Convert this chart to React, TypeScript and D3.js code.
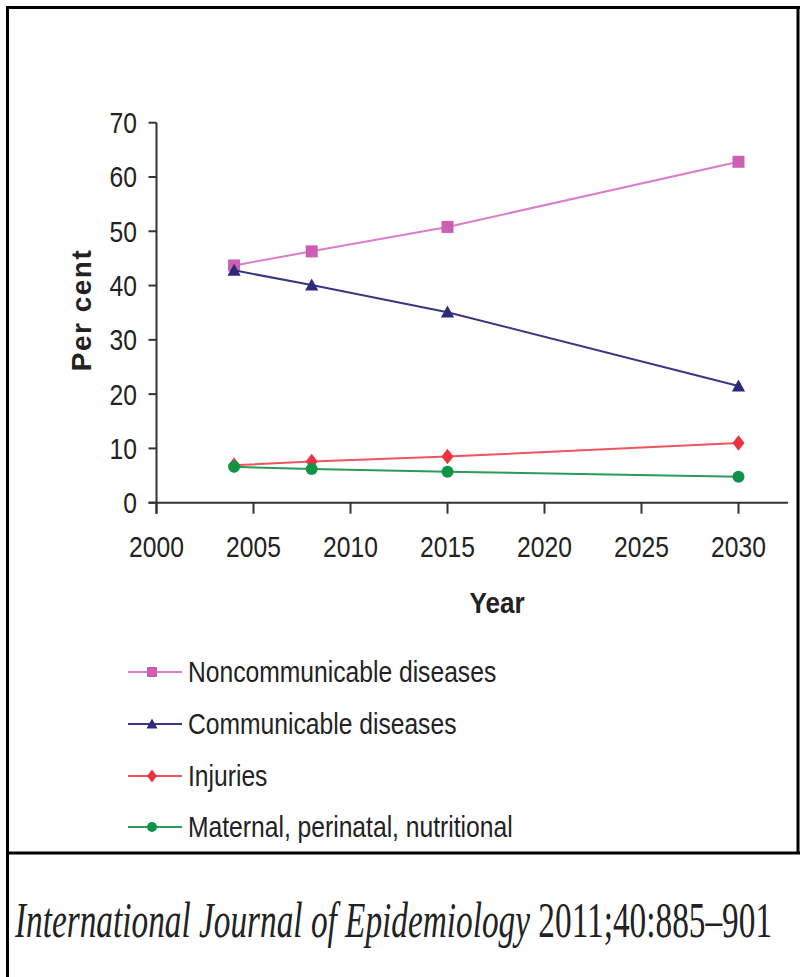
import React, { useLayoutEffect, useRef, useState } from "react";
import * as d3 from "d3";

const years = [2004, 2008, 2015, 2030];
const noncommunicable = [43.7, 46.3, 50.8, 62.8];
const communicable = [42.8, 40.1, 35.1, 21.5];
const injuries = [6.9, 7.6, 8.5, 11.0];
const maternal = [6.6, 6.2, 5.7, 4.8];
const xTicks = [2000, 2005, 2010, 2015, 2020, 2025, 2030];
const yTicks = [0, 10, 20, 30, 40, 50, 60, 70];
const seriesNames = [
  "Noncommunicable diseases",
  "Communicable diseases",
  "Injuries",
  "Maternal, perinatal, nutritional",
];

const W = 800;
const H = 977;
const FONT = "'Liberation Sans', Arial, sans-serif";
const NARROW = 0.85;

type S = { name: string; values: number[]; line: string; fill: string; shape: string };
const series: S[] = [
  { name: seriesNames[0], values: noncommunicable, line: "#dd7ccb", fill: "#cc5eb3", shape: "square" },
  { name: seriesNames[1], values: communicable, line: "#3a3585", fill: "#2d2a7c", shape: "triangle" },
  { name: seriesNames[2], values: injuries, line: "#f2545e", fill: "#ec3340", shape: "diamond" },
  { name: seriesNames[3], values: maternal, line: "#2e9a5a", fill: "#0f9447", shape: "circle" },
];

function Marker({ shape, x, y, s, fill }: { shape: string; x: number; y: number; s: number; fill: string }) {
  if (shape === "square") return <rect x={x - s / 2} y={y - s / 2} width={s} height={s} fill={fill} />;
  if (shape === "triangle")
    return <path d={`M${x},${y - s * 0.55}L${x + s * 0.55},${y + s * 0.45}L${x - s * 0.55},${y + s * 0.45}Z`} fill={fill} />;
  if (shape === "diamond")
    return <path d={`M${x},${y - s * 0.65}L${x + s * 0.5},${y}L${x},${y + s * 0.65}L${x - s * 0.5},${y}Z`} fill={fill} />;
  return <circle cx={x} cy={y} r={s / 2} fill={fill} />;
}

function NText({
  x,
  y,
  anchor = "start",
  children,
  size = 29,
  weight = "normal",
  dy,
  sx = NARROW,
}: {
  x: number;
  y: number;
  anchor?: string;
  children: React.ReactNode;
  size?: number;
  weight?: string;
  dy?: string;
  sx?: number;
}) {
  return (
    <g transform={`translate(${x},${y}) scale(${sx},1)`}>
      <text x={0} y={0} dy={dy} textAnchor={anchor} fontSize={size} fontWeight={weight} fill="#222">
        {children}
      </text>
    </g>
  );
}

function Citation() {
  const ref = useRef<SVGTextElement>(null);
  const [sx, setSx] = useState(0.65);
  useLayoutEffect(() => {
    if (ref.current) {
      const L = ref.current.getComputedTextLength();
      if (L > 0) setSx(757 / L);
    }
  }, []);
  return (
    <g transform={`translate(15,937) scale(${sx},1)`}>
      <text
        ref={ref}
        x={0}
        y={0}
        fontFamily="'Liberation Serif', 'Times New Roman', serif"
        fontSize={50}
        fill="#222"
      >
        <tspan fontStyle="italic">International Journal of Epidemiology</tspan> 2011;40:885–901
      </text>
    </g>
  );
}

export default function App() {
  const x = d3.scaleLinear().domain([2000, 2030]).range([156.5, 738.5]);
  const y = d3.scaleLinear().domain([0, 70]).range([502.7, 122.7]);
  const line = d3
    .line<number>()
    .x((_, i) => x(years[i]))
    .y((v) => y(v));

  const legendY = [672, 724, 776, 827];

  return (
    <svg
      width={W}
      height={H}
      style={{ position: "absolute", left: 0, top: 0, background: "#fff" }}
      fontFamily={FONT}
    >
      <rect x={0} y={0} width={W} height={H} fill="#fff" />
      {/* frame */}
      <line x1={7.5} y1={7.5} x2={W} y2={7.5} stroke="#000" strokeWidth={3} />
      <line x1={7.5} y1={6} x2={7.5} y2={H} stroke="#000" strokeWidth={3} />
      <line x1={798} y1={6} x2={798} y2={853} stroke="#000" strokeWidth={3} />
      <line x1={6} y1={853} x2={W} y2={853} stroke="#000" strokeWidth={3} />

      {/* axes */}
      <g stroke="#333" strokeWidth={2} fill="none">
        <line x1={x(2000)} y1={y(70)} x2={x(2000)} y2={y(0) + 11} />
        <line x1={x(2000) - 8} y1={y(0)} x2={788} y2={y(0)} />
        {yTicks.map((t) => (
          <line key={t} x1={x(2000) - 8} x2={x(2000)} y1={y(t)} y2={y(t)} />
        ))}
        {xTicks.map((t) => (
          <line key={t} x1={x(t)} x2={x(t)} y1={y(0)} y2={y(0) + 11} />
        ))}
      </g>
      {yTicks.map((t) => (
        <NText key={t} x={137} y={y(t)} dy="0.36em" anchor="end">
          {t}
        </NText>
      ))}
      {xTicks.map((t) => (
        <NText key={t} x={x(t)} y={556.5} anchor="middle">
          {t}
        </NText>
      ))}
      <NText x={497} y={613} anchor="middle" weight="bold" sx={0.9}>
        Year
      </NText>
      <text
        transform="translate(91,310) rotate(-90)"
        textAnchor="middle"
        fontWeight="bold"
        fontSize={28}
        fill="#222"
        letterSpacing={1.5}
      >
        Per cent
      </text>

      {/* series */}
      {series.map((s) => (
        <g key={s.name}>
          <path d={line(s.values) || ""} fill="none" stroke={s.line} strokeWidth={2} />
          {s.values.map((v, i) => (
            <Marker key={i} shape={s.shape} x={x(years[i])} y={y(v)} s={12} fill={s.fill} />
          ))}
        </g>
      ))}

      {/* legend */}
      {series.map((s, i) => (
        <g key={s.name}>
          <line x1={128} x2={182} y1={legendY[i]} y2={legendY[i]} stroke={s.line} strokeWidth={2} />
          <Marker shape={s.shape} x={152} y={legendY[i]} s={10} fill={s.fill} />
          <NText x={188} y={legendY[i]} dy="0.36em">
            {s.name}
          </NText>
        </g>
      ))}

      {/* citation */}
      <Citation />
    </svg>
  );
}
